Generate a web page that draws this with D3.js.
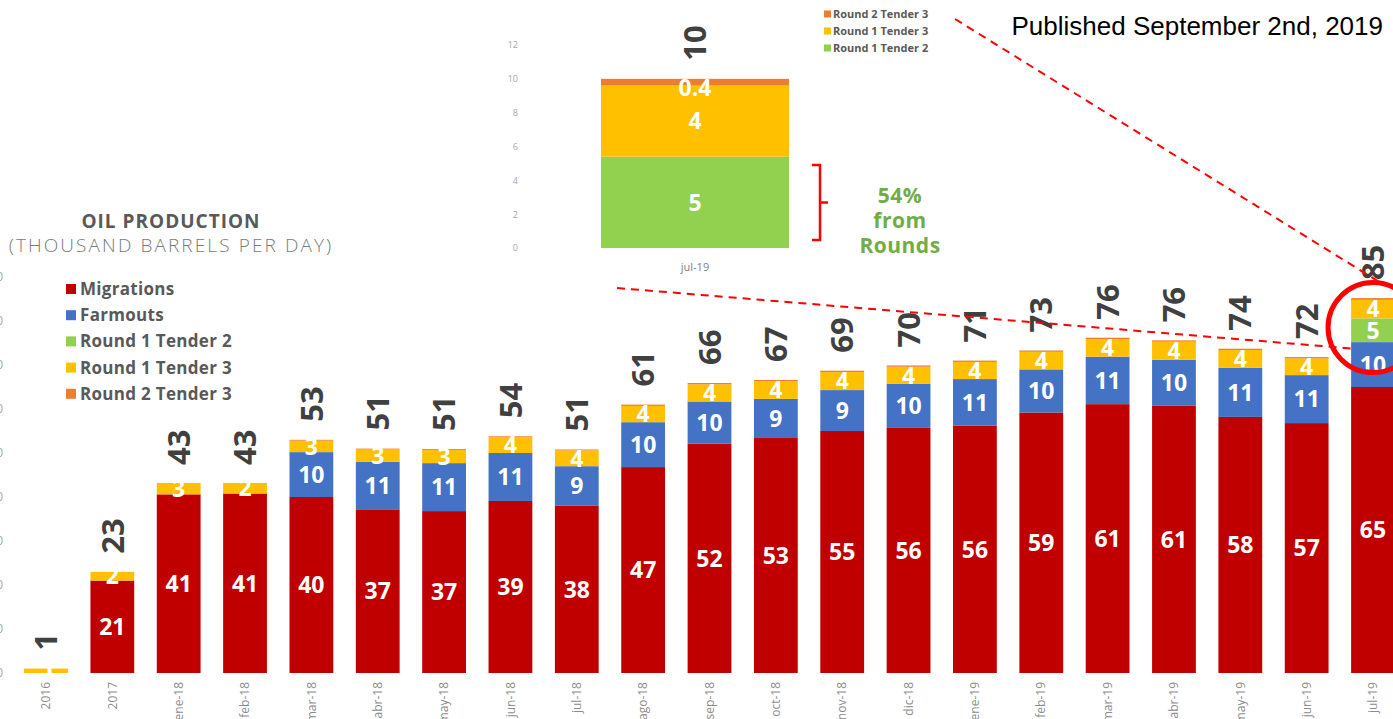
<!DOCTYPE html>
<html>
<head>
<meta charset="utf-8">
<script src="https://cdn.jsdelivr.net/npm/d3@7"></script>
<style>
  body { margin: 0; background: #fff; }
  svg { display: block; }
  text { font-family: "Open Sans", "DejaVu Sans", sans-serif; }
</style>
</head>
<body>
<div id="vis"></div>
<script>
// categories and series (thousand barrels per day)
const categories = ["2016", "2017", "ene-18", "feb-18", "mar-18", "abr-18", "may-18", "jun-18", "jul-18", "ago-18",
  "sep-18", "oct-18", "nov-18", "dic-18", "ene-19", "feb-19", "mar-19", "abr-19", "may-19", "jun-19", "jul-19"];
const migrations    = [0, 21, 40.6, 40.8, 40.0, 37.2, 36.8, 39.1, 38.0, 46.8, 52.1, 53.4, 55.0, 55.7, 56.2, 59.2, 61.1, 60.8, 58.2, 56.8, 65.0];
const farmouts      = [0, 0, 0, 0, 10.2, 10.8, 10.9, 10.9, 9.0, 10.2, 9.6, 8.9, 9.3, 10.0, 10.6, 9.8, 10.8, 10.4, 11.2, 10.9, 10.2];
const round1Tender2 = [0, 0, 0, 0, 0, 0, 0, 0, 0, 0, 0, 0, 0, 0, 0, 0, 0, 0, 0, 0, 5.4];
const round1Tender3 = [1, 2, 2.6, 2.4, 2.6, 2.8, 3.0, 3.6, 3.6, 3.7, 3.9, 4.0, 4.1, 3.9, 3.9, 4.0, 4.0, 4.1, 4.0, 3.8, 4.2];
const round2Tender3 = [0, 0, 0, 0, 0.2, 0.2, 0.2, 0.2, 0.2, 0.3, 0.3, 0.3, 0.3, 0.3, 0.3, 0.3, 0.3, 0.3, 0.3, 0.3, 0.4];

const yTicks = [0, 10, 20, 30, 40, 50, 60, 70, 80, 90];
const insetTicks = [0, 2, 4, 6, 8, 10, 12];

const seriesNames = ["Migrations", "Farmouts", "Round 1 Tender 2", "Round 1 Tender 3", "Round 2 Tender 3"];
const seriesColors = ["#c00000", "#4472c4", "#92d050", "#ffc000", "#ed7d31"];
const seriesKeys = ["m", "f", "g", "y", "o"];

function renderChart() {
    const width = 1393;
    const height = 719;

    const rows = categories.map((c, i) => ({
        cat: c,
        m: migrations[i], f: farmouts[i], g: round1Tender2[i], y: round1Tender3[i], o: round2Tender3[i]
    }));
    rows.forEach(r => r.total = r.m + r.f + r.g + r.y + r.o);

    const color = d3.scaleOrdinal().domain(seriesKeys).range(seriesColors);

    const svg = d3.select("#vis").append("svg")
        .attr("width", width)
        .attr("height", height);

    const x = d3.scaleBand()
        .domain(categories)
        .range([12.8, 1406.2])
        .paddingInner(0.34)
        .paddingOuter(0.17);

    const y = d3.scaleLinear()
        .domain([0, 90])
        .range([673, 277]);

    // left axis, mostly cut off at the edge of the picture
    svg.append("g")
        .attr("transform", "translate(3,0)")
        .call(d3.axisLeft(y).tickValues(yTicks).tickSize(0).tickPadding(0))
        .call(g => g.select(".domain").remove())
        .selectAll("text")
        .attr("fill", "#a6a6a6")
        .style("font-size", "12px");

    const stack = d3.stack().keys(seriesKeys);
    const layers = stack(rows);

    const bars = svg.append("g")
        .selectAll("g")
        .data(layers)
        .join("g")
        .attr("fill", d => color(d.key));

    bars.selectAll("rect")
        .data(d => d)
        .join("rect")
        .attr("x", d => x(d.data.cat))
        .attr("width", x.bandwidth())
        .attr("y", d => y(d[1]))
        .attr("height", d => y(d[0]) - y(d[1]));

    // the 2016 bar shows a small white gap
    svg.append("line")
        .attr("x1", x("2016") + x.bandwidth() * 0.58)
        .attr("x2", x("2016") + x.bandwidth() * 0.58)
        .attr("y1", y(0))
        .attr("y2", y(1.2))
        .attr("stroke", "#fff")
        .attr("stroke-width", 4);

    // segment value labels
    const segLabels = [];
    layers.forEach(layer => {
        if (layer.key === "o") return;
        layer.forEach(d => {
            const v = d[1] - d[0];
            if (v >= 1.5) segLabels.push({ cat: d.data.cat, v: v, mid: (d[0] + d[1]) / 2 });
        });
    });

    svg.append("g")
        .selectAll("text")
        .data(segLabels)
        .join("text")
        .attr("x", d => x(d.cat) + x.bandwidth() / 2)
        .attr("y", d => y(d.mid))
        .attr("dy", "0.36em")
        .attr("text-anchor", "middle")
        .attr("fill", "#fff")
        .style("font-size", "23px")
        .style("font-weight", 700)
        .text(d => d3.format(".0f")(d.v));

    // totals, rotated
    svg.append("g")
        .selectAll("text")
        .data(rows)
        .join("text")
        .attr("transform", d => `translate(${x(d.cat) + x.bandwidth() / 2},${y(d.total) - 18}) rotate(-90)`)
        .attr("dy", "0.36em")
        .attr("text-anchor", "start")
        .attr("fill", "#404040")
        .style("font-size", "31px")
        .style("font-weight", 700)
        .text(d => d3.format(".0f")(d.total));

    // category labels
    svg.append("g")
        .selectAll("text")
        .data(categories)
        .join("text")
        .attr("transform", d => `translate(${x(d) + x.bandwidth() / 2},682) rotate(-90)`)
        .attr("dy", "0.35em")
        .attr("text-anchor", "end")
        .attr("fill", "#8c8c8c")
        .style("font-size", "12px")
        .text(d => d);

    // title + legend
    svg.append("text")
        .attr("x", 171).attr("y", 228)
        .attr("text-anchor", "middle")
        .attr("fill", "#595959")
        .style("font-size", "19px")
        .style("font-weight", 700)
        .style("letter-spacing", "1px")
        .text("OIL PRODUCTION");
    svg.append("text")
        .attr("x", 171).attr("y", 252)
        .attr("text-anchor", "middle")
        .attr("fill", "#7a7a7a")
        .style("font-size", "19px")
        .style("font-weight", 300)
        .style("letter-spacing", "2.1px")
        .text("(THOUSAND BARRELS PER DAY)");

    const legend = svg.append("g")
        .selectAll("g")
        .data(seriesKeys)
        .join("g")
        .attr("transform", (d, i) => `translate(66,${289 + i * 26.2})`);
    legend.append("rect")
        .attr("y", -5).attr("width", 10).attr("height", 10)
        .attr("fill", d => color(d));
    legend.append("text")
        .attr("x", 14)
        .attr("dy", "0.35em")
        .attr("fill", "#595959")
        .style("font-size", "17px")
        .style("font-weight", 700)
        .style("letter-spacing", "0.3px")
        .text((d, i) => seriesNames[i]);

    // ---- inset: jul-19 from the rounds ----
    const last = rows[rows.length - 1];
    const insetRows = [{ cat: "jul-19", g: last.g, y: last.y, o: last.o }];
    const insetKeys = ["g", "y", "o"];

    const xi = d3.scaleBand().domain(["jul-19"]).range([601, 789]);
    const yi = d3.scaleLinear().domain([0, 12]).range([248, 45]);

    svg.append("g")
        .attr("transform", "translate(518,0)")
        .call(d3.axisLeft(yi).tickValues(insetTicks).tickSize(0).tickPadding(0))
        .call(g => g.select(".domain").remove())
        .selectAll("text")
        .attr("fill", "#a6a6a6")
        .style("font-size", "9px");

    const insetLayers = d3.stack().keys(insetKeys)(insetRows);
    svg.append("g")
        .selectAll("rect")
        .data(insetLayers)
        .join("rect")
        .attr("fill", d => color(d.key))
        .attr("x", xi("jul-19"))
        .attr("width", xi.bandwidth())
        .attr("y", d => yi(d[0][1]))
        .attr("height", d => yi(d[0][0]) - yi(d[0][1]));

    svg.append("g")
        .selectAll("text")
        .data(insetLayers)
        .join("text")
        .attr("x", xi("jul-19") + xi.bandwidth() / 2)
        .attr("y", d => d.key === "o" ? yi(d[0][1]) + 9 : yi((d[0][0] + d[0][1]) / 2))
        .attr("dy", "0.36em")
        .attr("text-anchor", "middle")
        .attr("fill", "#fff")
        .style("font-size", "23px")
        .style("font-weight", 700)
        .text(d => {
            const v = d[0][1] - d[0][0];
            return v < 1 ? d3.format(".1f")(v) : d3.format(".0f")(v);
        });

    const insetTotal = last.g + last.y + last.o;
    svg.append("text")
        .attr("transform", `translate(${xi("jul-19") + xi.bandwidth() / 2},${yi(insetTotal) - 18}) rotate(-90)`)
        .attr("dy", "0.36em")
        .attr("fill", "#404040")
        .style("font-size", "31px")
        .style("font-weight", 700)
        .text(d3.format(".0f")(insetTotal));

    svg.append("text")
        .attr("x", xi("jul-19") + xi.bandwidth() / 2)
        .attr("y", 271)
        .attr("text-anchor", "middle")
        .attr("fill", "#7f7f7f")
        .style("font-size", "11px")
        .text("jul-19");

    // inset legend
    const insetLegend = svg.append("g")
        .selectAll("g")
        .data(["o", "y", "g"])
        .join("g")
        .attr("transform", (d, i) => `translate(824,${14 + i * 17})`);
    insetLegend.append("rect")
        .attr("y", -3.5).attr("width", 7).attr("height", 7)
        .attr("fill", d => color(d));
    insetLegend.append("text")
        .attr("x", 9)
        .attr("dy", "0.35em")
        .attr("fill", "#595959")
        .style("font-size", "11px")
        .style("font-weight", 700)
        .text(d => seriesNames[seriesKeys.indexOf(d)]);

    // bracket
    const bx = 812, by0 = yi(4.9), by1 = yi(0.47), bm = (by0 + by1) / 2;
    svg.append("path")
        .attr("d", `M${bx},${by0} H${bx + 8} V${by1} H${bx} M${bx + 8},${bm} H${bx + 16}`)
        .attr("fill", "none")
        .attr("stroke", "#ff0000")
        .attr("stroke-width", 2.5);

    const pct = d3.format(".0%")((last.g) / insetTotal);
    svg.append("text")
        .attr("x", 900).attr("y", 203)
        .attr("text-anchor", "middle")
        .attr("fill", "#70ad47")
        .style("font-size", "21px")
        .style("font-weight", 700)
        .style("letter-spacing", "0.5px")
        .selectAll("tspan")
        .data([pct, "from", "Rounds"])
        .join("tspan")
        .attr("x", 900)
        .attr("dy", (d, i) => i === 0 ? 0 : 25)
        .text(d => d);

    // annotation: circle + dashed leader lines
    const cx = x("jul-19") + x.bandwidth() / 2;
    const cy = y(78.5);
    svg.append("circle")
        .attr("cx", cx).attr("cy", cy).attr("r", 45)
        .attr("fill", "none")
        .attr("stroke", "#ff0000")
        .attr("stroke-width", 5);

    svg.append("line")
        .attr("x1", 955).attr("y1", 19)
        .attr("x2", cx + 12).attr("y2", cy - 42)
        .attr("stroke", "#ff0000").attr("stroke-width", 2)
        .attr("stroke-dasharray", "8,6");
    svg.append("line")
        .attr("x1", 617).attr("y1", 288)
        .attr("x2", cx - 20).attr("y2", cy + 21)
        .attr("stroke", "#ff0000").attr("stroke-width", 2)
        .attr("stroke-dasharray", "8,6");

    svg.append("text")
        .attr("x", 1383).attr("y", 35)
        .attr("text-anchor", "end")
        .attr("fill", "#000")
        .style("font-family", "'Liberation Sans', Arial, sans-serif")
        .style("font-size", "26px")
        .text("Published September 2nd, 2019");
}

document.addEventListener("DOMContentLoaded", function () {
    renderChart();
});
</script>
</body>
</html>
